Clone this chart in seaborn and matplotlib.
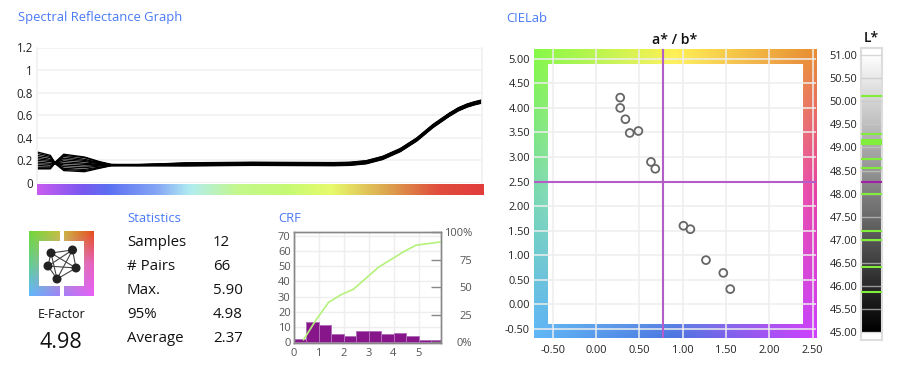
import numpy as np
import seaborn as sns
import matplotlib.pyplot as plt
from matplotlib.colors import LinearSegmentedColormap, to_rgb
from matplotlib.patches import Rectangle, Circle

# spectra, one list per sample
wavelengths = [400, 409, 412, 418, 432, 442, 450, 470, 500, 545, 580, 600, 611, 622, 633, 645, 656, 667, 678, 684, 690, 695, 700]
s1 = [.275, .245, .18, .255, .23, .19, .165, .162, .179, .184, .182, .181, .184, .198, .236, .306, .399, .519, .619, .666, .700, .720, .736]
s2 = [.262, .235, .18, .245, .225, .185, .163, .160, .176, .181, .179, .178, .181, .195, .233, .303, .396, .516, .616, .663, .697, .717, .733]
s3 = [.245, .225, .18, .235, .21, .18, .162, .165, .173, .178, .176, .175, .178, .192, .230, .300, .393, .513, .613, .660, .694, .714, .730]
s4 = [.23, .21, .18, .22, .2, .175, .16, .158, .170, .175, .173, .172, .175, .189, .227, .297, .390, .510, .610, .657, .691, .711, .727]
s5 = [.215, .2, .18, .205, .19, .17, .16, .163, .168, .173, .171, .170, .173, .187, .225, .295, .388, .508, .608, .655, .689, .709, .725]
s6 = [.2, .19, .175, .19, .175, .165, .158, .16, .166, .171, .169, .168, .171, .185, .223, .293, .386, .506, .606, .653, .687, .707, .723]
s7 = [.185, .175, .175, .175, .165, .16, .158, .157, .164, .169, .167, .166, .169, .183, .221, .291, .384, .504, .604, .651, .685, .705, .721]
s8 = [.17, .165, .175, .16, .15, .155, .157, .16, .162, .167, .165, .164, .167, .181, .219, .289, .382, .502, .602, .649, .683, .703, .719]
s9 = [.155, .15, .175, .145, .135, .15, .156, .155, .160, .165, .163, .162, .165, .179, .217, .287, .380, .500, .600, .647, .681, .701, .717]
s10 = [.14, .14, .175, .13, .12, .14, .155, .158, .157, .162, .160, .159, .162, .176, .214, .284, .377, .497, .597, .644, .678, .698, .714]
s11 = [.13, .13, .175, .12, .11, .135, .154, .152, .154, .159, .157, .156, .159, .173, .211, .281, .374, .494, .594, .641, .675, .695, .711]
s12 = [.125, .125, .175, .11, .1, .13, .153, .155, .151, .156, .154, .153, .156, .170, .208, .278, .371, .491, .591, .638, .672, .692, .708]
spectra = [s1, s2, s3, s4, s5, s6, s7, s8, s9, s10, s11, s12]
spectral_ticks = [0, 0.2, 0.4, 0.6, 0.8, 1, 1.2]
spectral_labels = ['0', '0.2', '0.4', '0.6', '0.8', '1', '1.2']

# stats
stat_names = ['Samples', '# Pairs', 'Max.', '95%', 'Average']
stat_values = ['12', '66', '5.90', '4.98', '2.37']

# CRF histogram
crf_edges = [0, .5, 1, 1.5, 2, 2.5, 3, 3.5, 4, 4.5, 5, 5.5, 5.9]
crf_counts = [2, 13, 11, 5, 4, 7, 7, 5, 6, 4, 1, 1]
cum_x = [0.4, 0.9, 1.4, 1.9, 2.4, 2.9, 3.4, 3.9, 4.4, 4.9, 5.9]
cum_pct = [2, 20, 36, 43, 48, 58, 68, 75, 82, 88, 91]

# CIELab points
lab_a = [.28, .28, .34, .39, .49, .635, .685, 1.01, 1.09, 1.27, 1.47, 1.55]
lab_b = [4.21, 4.00, 3.77, 3.49, 3.53, 2.90, 2.76, 1.60, 1.53, .90, .64, .31]
mean_a = 0.775
mean_b = 2.50
lab_l = [50.12, 49.30, 49.17, 49.12, 49.07, 48.75, 48.56, 48.0, 47.2, 47.0, 46.42, 45.86]
mean_l = 48.25
ab_ticks_x = [-.5, 0, .5, 1, 1.5, 2, 2.5]
ab_ticks_y = [-.5, 0, .5, 1, 1.5, 2, 2.5, 3, 3.5, 4, 4.5, 5]
l_ticks = [45, 45.5, 46, 46.5, 47, 47.5, 48, 48.5, 49, 49.5, 50, 50.5, 51]

sns.set_theme(style='white')
plt.rcParams['font.family'] = ['Open Sans', 'DejaVu Sans']

W, H = 900, 365
BLUE = '#4a7af5'
fig = plt.figure(figsize=(W / 100, H / 100), dpi=100)


def px_axes(x0, y0, x1, y1, **kw):
    return fig.add_axes([x0 / W, 1 - y1 / H, (x1 - x0) / W, (y1 - y0) / H], **kw)


def label(x, y, s, size=9.4, color='#111111', ha='left', **kw):
    fig.text(x / W, 1 - y / H, s, fontsize=size, color=color, ha=ha, va='center', **kw)


def grad_image(ax, rows, extent):
    # extent is (left, right, value at the bottom, value at the top)
    arr = np.array([[to_rgb(c) for c in row] for row in rows])
    ny, nx = arr.shape[:2]
    x0, x1, y0, y1 = extent
    dx = (x1 - x0) / (nx - 1) / 2
    dy = (y1 - y0) / (ny - 1) / 2
    ax.imshow(arr, extent=(x0 - dx, x1 + dx, y0 - dy, y1 + dy), origin='upper',
              interpolation='bilinear', aspect='auto', zorder=0)
    ax.set_xlim(x0, x1)
    ax.set_ylim(y0, y1)


label(18, 18, 'Spectral Reflectance Graph', color=BLUE)
label(506, 18, 'CIELab', color=BLUE)
label(127, 218, 'Statistics', color=BLUE)
label(278, 218, 'CRF', color=BLUE)

# spectral graph
ax = px_axes(37, 47.5, 482, 183)
for s in spectra:
    sns.lineplot(x=wavelengths, y=s, color='black', lw=0.95, ax=ax)
ax.set_xlim(400, 700)
ax.set_ylim(0, 1.2)
ax.set_xticks([])
ax.set_yticks(spectral_ticks, spectral_labels)
ax.grid(axis='y', color='#f1f1f1', lw=1.2)
ax.set_axisbelow(True)
ax.tick_params(axis='y', length=0, pad=3, labelsize=8.3, labelcolor='#222222')
for side in ax.spines:
    ax.spines[side].set_visible(side in ('left', 'right'))
    ax.spines[side].set_color('#f1f1f1')

# wavelength strip
ax = px_axes(37, 183.5, 483, 195)
strip = LinearSegmentedColormap.from_list('strip', [
    (0, '#c95cf0'), (.10, '#7a58f0'), (.16, '#5c70f2'), (.27, '#86a8f5'), (.34, '#b0ecf2'),
    (.45, '#c4f88c'), (.56, '#c6fa74'), (.66, '#e8fa6c'), (.78, '#dda850'), (.90, '#e04c3c'), (1, '#e23c3c')])
ax.imshow(np.linspace(0, 1, 256)[None, :], cmap=strip, aspect='auto')
ax.axis('off')

# E-Factor icon
ax = px_axes(29, 231, 94, 296)
grad_image(ax, [['#70d838', '#c8c040', '#e84a18'],
                ['#60d090', '#c8a0a0', '#e860c0'],
                ['#60b8ff', '#a080f8', '#e860f8']], (29, 94, 296, 231))
ax.add_patch(Rectangle((39, 241), 45, 45, color='white', lw=0))
ax.add_patch(Rectangle((60, 231), 3.5, 10, color='white', lw=0))
ax.add_patch(Rectangle((60, 286), 3.5, 10, color='white', lw=0))
nodes = [(51, 253), (72.5, 250), (48, 266), (76, 268), (57, 279)]
for i, p in enumerate(nodes):
    for q in nodes[i + 1:]:
        ax.plot([p[0], q[0]], [p[1], q[1]], color='#444444', lw=0.8, zorder=2)
    ax.add_patch(Circle(p, 4.5, color='#222222', lw=0, zorder=3))
ax.axis('off')
label(62, 314, 'E-Factor', size=9, ha='center')
label(61, 342, '4.98', size=15.5, ha='center')

# statistics table
for i, (n, v) in enumerate(zip(stat_names, stat_values)):
    label(127, 242.5 + 24 * i, n, size=10.8)
    label(213, 242.5 + 24 * i, v, size=10.8)

# CRF
ax = px_axes(293.5, 232, 441, 342.7)
sns.histplot(x=crf_edges[:-1], weights=crf_counts, bins=crf_edges, color='#86168a', alpha=1,
             edgecolor='#b070b8', linewidth=0.7, ax=ax)
ax.set_xlim(0, 5.9)
ax.set_ylim(-.46, 72.6)
ax.set_xticks([0, 1, 2, 3, 4, 5])
ax.set_yticks(range(0, 71, 10))
ax.set_xlabel('')
ax.set_ylabel('')
ax.grid(color='#eeeeee', lw=1)
ax.set_axisbelow(True)
ax.tick_params(length=0, pad=2, labelsize=8, labelcolor='#555555')
ax.tick_params(axis='x', pad=4)
ax2 = ax.twinx()
sns.lineplot(x=cum_x, y=cum_pct, color='#b4f27a', lw=1.2, ax=ax2)
ax2.set_ylim(-.6, 100)
ax2.set_yticks([0, 25, 50, 75, 100], ['0%', '25', '50', '75', '100%'])
ax2.set_ylabel('')
ax2.grid(False)
ax2.tick_params(axis='y', direction='in', length=7, width=1, color='#888888', pad=22.5, labelsize=8, labelcolor='#555555')
for t in ax2.get_yticklabels():
    t.set_ha('right')
for a in (ax, ax2):
    for sp in a.spines.values():
        sp.set_color('#888888')
        sp.set_linewidth(1)

# a*/b*
ax = px_axes(534, 49, 816, 338)
grad_image(ax, [['#84fa44', '#fff050', '#e88f30'],
                ['#78d8b0', '#ffffff', '#e840a8'],
                ['#60b8f8', '#4a74e0', '#d040ff']], (-.715, 2.54, -.686, 5.2))
ax.add_patch(Rectangle((-.55, -.40), 2.94, 5.30, color='white', lw=0, zorder=1))
ax.set_xticks(ab_ticks_x, [f'{v:.2f}' for v in ab_ticks_x])
ax.set_yticks(ab_ticks_y, [f'{v:.2f}' for v in ab_ticks_y])
ax.grid(color='#eeeeee', lw=1.1, zorder=2)
ax.set_axisbelow(False)
ax.tick_params(length=0, pad=3, labelsize=7.9, labelcolor='#222222')
ax.tick_params(axis='x', pad=5)
ax.axvline(mean_a, color='#b45cc8', lw=1.5, zorder=3)
ax.axhline(mean_b, color='#b45cc8', lw=1.5, zorder=3)
sns.scatterplot(x=lab_a, y=lab_b, s=32, facecolor='none', edgecolor='#666666', linewidth=1.3, ax=ax, zorder=4)
for sp in ax.spines.values():
    sp.set_visible(False)
label(675, 40, 'a* / b*', size=10.2, ha='center', fontweight='semibold')

# L*
ax = px_axes(860.7, 47.7, 881.7, 340)
ax.imshow(np.linspace(1, 0, 256)[:, None], cmap='gray', vmin=0, vmax=1, aspect='auto',
          extent=(0, 1, 45, 51), zorder=0)
ax.set_xlim(0, 1)
ax.set_ylim(44.83, 51.16)
ax.set_xticks([])
ax.set_yticks(l_ticks, [f'{v:.2f}' for v in l_ticks])
ax.grid(axis='y', color='#c8c8c8', lw=1, alpha=0.7)
ax.set_axisbelow(False)
ax.tick_params(length=0, pad=2.5, labelsize=7.9, labelcolor='#222222')
for v in lab_l:
    ax.axhline(v, color='#82ee3c', lw=1.5, zorder=3)
ax.axhline(mean_l, color='#a020a8', lw=1.5, zorder=3)
for sp in ax.spines.values():
    sp.set_color('#dddddd')
    sp.set_linewidth(1.5)
label(871, 38, 'L*', size=10, ha='center', fontweight='semibold')

fig.savefig('out.png', dpi=100, facecolor='white')
